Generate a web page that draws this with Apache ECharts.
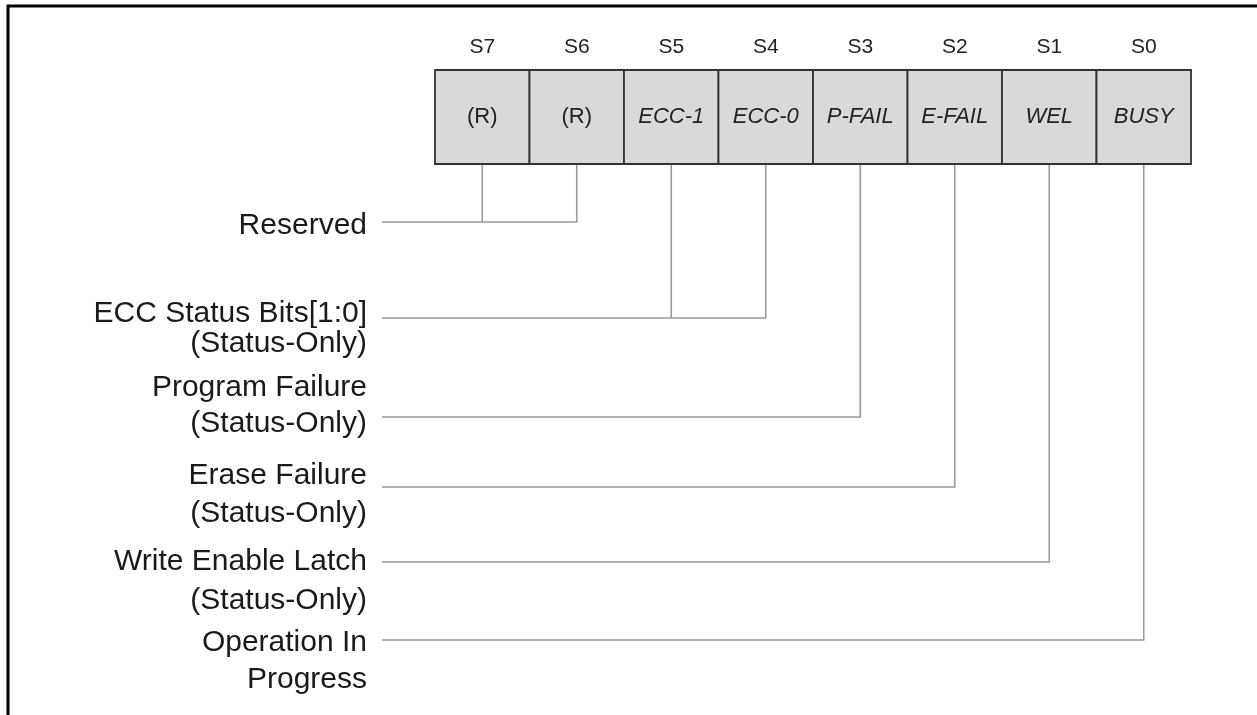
<!DOCTYPE html>
<html>
<head>
<meta charset="utf-8">
<script src="https://cdn.jsdelivr.net/npm/echarts@6/dist/echarts.min.js"></script>
<style>
  html, body { margin: 0; padding: 0; background: #ffffff; }
  #chart { width: 1257px; height: 715px; }
</style>
</head>
<body>
<div id="chart"></div>
<script>
// ---- Data ----
const bitNames = ['S7', 'S6', 'S5', 'S4', 'S3', 'S2', 'S1', 'S0'];
const bitFields = ['(R)', '(R)', 'ECC-1', 'ECC-0', 'P-FAIL', 'E-FAIL', 'WEL', 'BUSY'];
const fieldItalic = [false, false, true, true, true, true, true, true];

const groupLabels = [
  ['Reserved'],
  ['ECC Status Bits[1:0]', '(Status-Only)'],
  ['Program Failure', '(Status-Only)'],
  ['Erase Failure', '(Status-Only)'],
  ['Write Enable Latch', '(Status-Only)'],
  ['Operation In', 'Progress']
];
const groupBits = [[0, 1], [2, 3], [4], [5], [6], [7]];
const groupLineLevel = [222, 318, 417, 487, 562, 640];
const groupTextLevels = [[226], [314, 344], [388, 424], [476, 514], [562, 601], [643, 680]];

// ---- Layout ----
const PX_PER_SLOT = 94.5;
const REG_LEFT_PX = 435;
const X_MIN = -0.5 - REG_LEFT_PX / PX_PER_SLOT;
const X_MAX = X_MIN + 1257 / PX_PER_SLOT;
const REG_TOP = 70, REG_BOTTOM = 164, BITNAME_LEVEL = 47;
const LINE_START = X_MIN + 382 / PX_PER_SLOT;
const TEXT_RIGHT = X_MIN + 367 / PX_PER_SLOT;
const FONT = '"Liberation Sans", Arial, Helvetica, sans-serif';

const chart = echarts.init(document.getElementById('chart'), null, { renderer: 'canvas' });

const option = {
  animation: false,
  backgroundColor: '#ffffff',
  grid: { left: 0, right: 0, top: 0, bottom: 0, containLabel: false },
  xAxis: { type: 'value', min: X_MIN, max: X_MAX, show: false },
  yAxis: { type: 'value', min: 0, max: 715, inverse: true, show: false },
  graphic: [{
    type: 'polyline',
    shape: { points: [[8, 715], [8, 6], [1257, 6]] },
    style: { stroke: '#000000', lineWidth: 3, fill: null },
    z: 10
  }],
  series: [
    {
      type: 'custom',
      name: 'connectors',
      clip: false,
      data: groupBits.map((b, g) => [g]),
      renderItem: function (params, api) {
        const g = api.value(0);
        const bits = groupBits[g];
        const lvl = groupLineLevel[g];
        const children = [];
        const last = bits[bits.length - 1];
        const p0 = api.coord([LINE_START, lvl]);
        const p1 = api.coord([last, lvl]);
        children.push({
          type: 'line',
          shape: { x1: p0[0], y1: p0[1], x2: p1[0] + 0.75, y2: p1[1] },
          style: { stroke: '#9a9a9a', lineWidth: 1.6 }
        });
        bits.forEach(function (b) {
          const a = api.coord([b, REG_BOTTOM]);
          const c = api.coord([b, lvl]);
          children.push({
            type: 'line',
            shape: { x1: a[0], y1: a[1], x2: c[0], y2: c[1] },
            style: { stroke: '#9a9a9a', lineWidth: 1.6 }
          });
        });
        groupLabels[g].forEach(function (t, k) {
          const p = api.coord([TEXT_RIGHT, groupTextLevels[g][k]]);
          children.push({
            type: 'text',
            style: {
              text: t, x: p[0], y: p[1],
              align: 'right', verticalAlign: 'middle',
              fontSize: 30, fontFamily: FONT, fill: '#1a1a1a'
            }
          });
        });
        return { type: 'group', children: children };
      }
    },
    {
      type: 'custom',
      name: 'register',
      clip: false,
      data: bitFields.map((f, i) => [i]),
      renderItem: function (params, api) {
        const i = api.value(0);
        const tl = api.coord([i - 0.5, REG_TOP]);
        const br = api.coord([i + 0.5, REG_BOTTOM]);
        const mid = api.coord([i, (REG_TOP + REG_BOTTOM) / 2]);
        const top = api.coord([i, BITNAME_LEVEL]);
        return {
          type: 'group',
          children: [
            {
              type: 'rect',
              shape: { x: tl[0], y: tl[1], width: br[0] - tl[0], height: br[1] - tl[1] },
              style: { fill: '#d9d9d9', stroke: '#333333', lineWidth: 1.8 }
            },
            {
              type: 'text',
              style: {
                text: bitFields[i], x: mid[0], y: mid[1],
                align: 'center', verticalAlign: 'middle',
                fontSize: 22, fontStyle: fieldItalic[i] ? 'italic' : 'normal',
                fontFamily: FONT, fill: '#222222'
              }
            },
            {
              type: 'text',
              style: {
                text: bitNames[i], x: top[0], y: top[1],
                align: 'center', verticalAlign: 'middle',
                fontSize: 21, fontFamily: FONT, fill: '#222222'
              }
            }
          ]
        };
      }
    }
  ]
};
chart.setOption(option);
</script>
</body>
</html>
